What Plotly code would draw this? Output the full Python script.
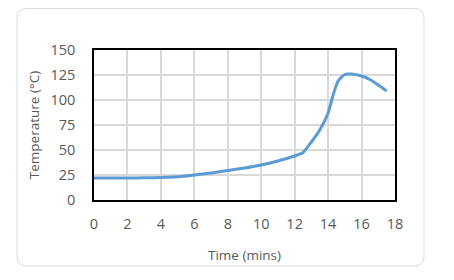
import plotly.graph_objects as go

time_mins = [0, 1, 2, 3, 4, 5, 6, 7, 8, 9, 10, 11, 12, 12.5, 13, 13.5, 14, 14.3, 14.6, 15, 15.4, 16, 16.5, 17, 17.5]
temp_c = [22, 22, 22, 22.2, 22.5, 23.2, 25, 27, 29.5, 32, 35, 39, 44, 47.5, 58, 70, 87, 105, 119, 125.5, 126, 124, 120.5, 115, 109]

x_ticks = list(range(0, 19, 2))
y_ticks = list(range(0, 151, 25))

W, H = 454, 280
L, R, T, B = 94, 59, 50, 80
pw, ph = W - L - R, H - T - B

def px(x):
    return (x - L) / pw

def py(y):
    return (H - B - y) / ph

fig = go.Figure()
fig.add_trace(go.Scatter(
    x=time_mins, y=temp_c, mode="lines",
    line=dict(color="#5B9BD5", width=3, shape="spline", smoothing=0.6),
    hoverinfo="skip", showlegend=False,
))

# rounded outer frame
x0, x1, y0, y1, r = 17, 424, 8.5, 266, 10
rx, ry = r / pw, r / ph
X0, X1, Y0, Y1 = px(x0), px(x1), py(y1), py(y0)
path = (f"M {X0+rx} {Y1} L {X1-rx} {Y1} Q {X1} {Y1} {X1} {Y1-ry} "
        f"L {X1} {Y0+ry} Q {X1} {Y0} {X1-rx} {Y0} "
        f"L {X0+rx} {Y0} Q {X0} {Y0} {X0} {Y0+ry} "
        f"L {X0} {Y1-ry} Q {X0} {Y1} {X0+rx} {Y1} Z")

fig.update_layout(
    width=W, height=H,
    margin=dict(l=L, r=R, t=T, b=B),
    paper_bgcolor="white", plot_bgcolor="white",
    font=dict(family="Open Sans, Liberation Sans, sans-serif", color="#595959"),
    shapes=[dict(type="path", path=path, xref="paper", yref="paper",
                 line=dict(color="#D9D9D9", width=1), layer="below")],
    xaxis=dict(range=[0, 18], tickvals=x_ticks, ticktext=[str(v) for v in x_ticks],
               showgrid=True, gridcolor="#D9D9D9", gridwidth=1.5,
               showline=True, linecolor="black", linewidth=1.5, mirror=True,
               zeroline=False, ticks="", tickfont=dict(size=14.5, color="#595959"),
               ticklabelstandoff=10,
               title=dict(text="Time (mins)", font=dict(size=13.5, color="#595959"), standoff=18)),
    yaxis=dict(range=[0, 150], tickvals=y_ticks, ticktext=[str(v) for v in y_ticks],
               showgrid=True, gridcolor="#D9D9D9", gridwidth=1.5,
               showline=True, linecolor="black", linewidth=1.5, mirror=True,
               zeroline=False, ticks="", tickfont=dict(size=14.5, color="#595959"),
               ticklabelstandoff=14,
               title=dict(text="Temperature (°C)", font=dict(size=13.5, color="#595959"), standoff=8)),
)

fig.write_html("out.html")
